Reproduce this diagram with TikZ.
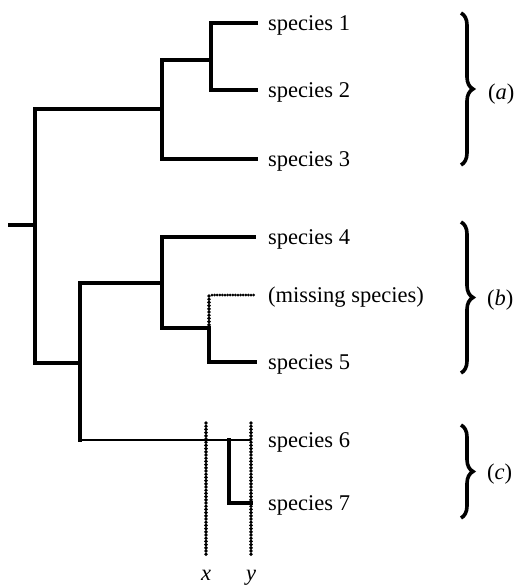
\documentclass[tikz,border=0pt]{standalone}
\usepackage{fontspec}
\setmainfont{Liberation Serif}
\usetikzlibrary{decorations.pathreplacing}
\begin{document}
\begin{tikzpicture}[x=1pt,y=-1pt,
  branch/.style={line width=4pt,line join=miter,line cap=rect},
  thinbranch/.style={line width=2.4pt},
  dotline/.style={line width=3.9pt,line cap=round,dash pattern=on 0pt off 3.2pt},
  thindot/.style={line width=3pt,line cap=round,dash pattern=on 0pt off 2.6pt},
  lab/.style={font=\fontsize{22.5}{27}\selectfont,anchor=west,inner sep=0pt,text height=15pt,text depth=0pt},
  axl/.style={font=\fontsize{22.5}{27}\selectfont,anchor=base,inner sep=0pt},
  grp/.style={line width=3.6pt,decorate,decoration={brace,amplitude=12pt,aspect=0.5}}]
\useasboundingbox (0,0) rectangle (521,587);
% coordinates
\coordinate (r0) at (10,225);
\coordinate (r) at (35,225);
\coordinate (A) at (35,109);
\coordinate (B) at (35,363);
\coordinate (A1) at (162,109);
\coordinate (A1t) at (162,60);
\coordinate (A1b) at (162,159);
\coordinate (A2) at (211,60);
\coordinate (A2t) at (211,23);
\coordinate (A2b) at (211,90);
\coordinate (l1) at (256,23);
\coordinate (l2) at (256,90);
\coordinate (l3) at (256,159);
\coordinate (B1) at (80,363);
\coordinate (B1t) at (80,283);
\coordinate (B1b) at (80,440);
\coordinate (C) at (162,283);
\coordinate (Ct) at (162,237);
\coordinate (Cb) at (162,328);
\coordinate (l4) at (254,237);
\coordinate (D) at (209,328);
\coordinate (Dt) at (209,295);
\coordinate (Db) at (209,362);
\coordinate (lm0) at (212,295);
\coordinate (lm) at (254,295);
\coordinate (l5) at (255,362);
\coordinate (l6) at (251,440);
\coordinate (E) at (229,440);
\coordinate (Eb) at (229,503);
\coordinate (l7) at (251,503);
\coordinate (xt) at (206,423);
\coordinate (xb) at (206,556);
\coordinate (yt) at (251,423);
\coordinate (yb) at (251,556);
% labels
\node[lab] (s1) at (268,23) {species 1};
\node[lab] (s2) at (268,90) {species 2};
\node[lab] (s3) at (268,159) {species 3};
\node[lab] (s4) at (268,237) {species 4};
\node[lab] (sm) at (268,295) {(missing species)};
\node[lab] (s5) at (268,362) {species 5};
\node[lab] (s6) at (268,440) {species 6};
\node[lab] (s7) at (268,503) {species 7};
\node[lab] (ga) at (488,92) {(\textit{a})};
\node[lab] (gb) at (487,298) {(\textit{b})};
\node[lab] (gc) at (487,472) {(\textit{c})};
\node[axl] (lx) at (206,580) {\textit{x}};
\node[axl] (ly) at (251,580) {\textit{y}};
% tree
\draw[branch] (r0) -- (r);
\draw[branch] (A1) -- (A) -- (B) -- (B1);
\draw[branch] (l3) -- (A1b) -- (A1t) -- (A2);
\draw[branch] (l1) -- (A2t) -- (A2b) -- (l2);
\draw[branch] (C) -- (B1t) -- (B1b);
\draw[thinbranch] (B1b) -- (l6);
\draw[branch] (l4) -- (Ct) -- (Cb) -- (D);
\draw[dotline] (D) -- (Dt);
\draw[thindot] (lm0) -- (lm);
\draw[branch] (D) -- (Db) -- (l5);
\draw[branch] (E) -- (Eb) -- (l7);
\draw[dotline] (xt) -- (xb);
\draw[dotline] (yt) -- (yb);
% braces
\coordinate (ba1) at (461,13);
\coordinate (ba2) at (461,165);
\coordinate (bb1) at (461,222);
\coordinate (bb2) at (461,373);
\coordinate (bc1) at (461,425);
\coordinate (bc2) at (461,518);
\draw[grp] (ba1) -- (ba2);
\draw[grp] (bb1) -- (bb2);
\draw[grp] (bc1) -- (bc2);
\end{tikzpicture}
\end{document}
